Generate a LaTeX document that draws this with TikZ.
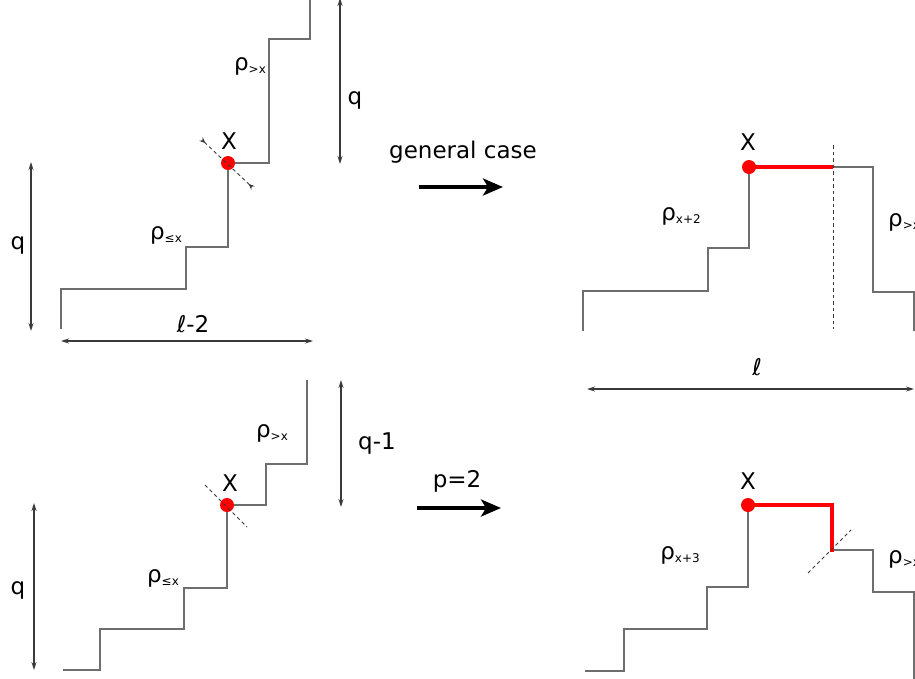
\documentclass[tikz,border=0pt]{standalone}
\usepackage{fontspec}
\setmainfont{DejaVu Sans}
\usetikzlibrary{arrows.meta}
\definecolor{stairgray}{HTML}{6E6E6E}
\definecolor{dimgray}{HTML}{3A3A3A}
\newcommand\rhosub[1]{ρ\raisebox{-3.5pt}{\fontsize{12}{14}\selectfont #1}}
\begin{document}
\begin{tikzpicture}[x=1pt,y=-1pt,
  stair/.style={draw=stairgray, line width=1.6pt},
  redseg/.style={draw=red, line width=4.4pt},
  reddot/.style={circle, fill=red, inner sep=0pt, minimum size=14pt},
  dimarrow/.style={draw=dimgray, line width=1.2pt, {Stealth[length=8pt,width=5pt]}-{Stealth[length=8pt,width=5pt]}},
  bigarrow/.style={draw=black, line width=3.4pt, -{Stealth[length=20pt,width=17pt,inset=5pt]}},
  cutline/.style={draw=dimgray, line width=0.9pt, dash pattern=on 3.5pt off 3pt},
  lab/.style={font=\fontsize{23}{27}\selectfont, inner sep=0pt},
  rholab/.style={font=\fontsize{23}{27}\selectfont, inner sep=0pt}
]
\useasboundingbox (0,0) rectangle (915,678);

% ---------- top-left staircase ----------
\draw[stair] (61,329) -- (61,289) -- (186,289) -- (186,247) -- (228,247) -- (228,163)
  -- (269,163) -- (269,39) -- (310,39) -- (310,0);
\node[reddot] (xa) at (228,163) {};
\coordinate (ca1) at (201,139);
\coordinate (ca2) at (253,188);
\draw[cutline, {Stealth[length=6pt,width=5pt,reversed]}-{Stealth[length=6pt,width=5pt,reversed]}] (ca1) -- (ca2);
\node[lab] (xla) at (229,141) {X};
\node[rholab] (ra1) at (250,66) {\rhosub{>x}};
\node[rholab] (ra2) at (166,235) {\rhosub{≤x}};
\coordinate (qa1) at (31,162);
\coordinate (qa2) at (31,331);
\draw[dimarrow] (qa1) -- (qa2);
\node[lab] (qla) at (18,245) {q};
\coordinate (qb1) at (340,-2);
\coordinate (qb2) at (340,164);
\draw[dimarrow] (qb1) -- (qb2);
\node[lab] (qlb) at (355,100) {q};
\coordinate (la1) at (61,341);
\coordinate (la2) at (313,341);
\draw[dimarrow] (la1) -- (la2);
\node[lab] (lla) at (193,324) {ℓ-2};

% ---------- general case arrow ----------
\node[lab] (gc) at (463,152) {general case};
\coordinate (ga1) at (419,187);
\coordinate (ga2) at (503,187);
\draw[bigarrow] (ga1) -- (ga2);

% ---------- top-right staircase ----------
\draw[stair] (583,331) -- (583,291) -- (708,291) -- (708,248) -- (749,248) -- (749,167);
\draw[stair] (833,167) -- (873,167) -- (873,292) -- (914,292) -- (914,331);
\draw[redseg] (749,167) -- (833,167);
\node[reddot] (xb) at (749,167) {};
\coordinate (vd1) at (833,145);
\coordinate (vd2) at (833,329);
\draw[cutline] (vd1) -- (vd2);
\node[lab] (xlb) at (748,142) {X};
\node[rholab] (rb1) at (681,216) {\rhosub{x+2}};
\node[rholab, anchor=west] (rb2) at (888,222) {\rhosub{>x}};
\coordinate (lb1) at (587,389);
\coordinate (lb2) at (914,389);
\draw[dimarrow] (lb1) -- (lb2);
\node[lab] (llb) at (757,367) {ℓ};

% ---------- bottom-left staircase ----------
\draw[stair] (63,670) -- (100,670) -- (100,629) -- (184,629) -- (184,588) -- (227,588)
  -- (227,505) -- (266,505) -- (266,464) -- (307,464) -- (307,380);
\node[reddot] (xc) at (227,505) {};
\coordinate (cc1) at (205,485);
\coordinate (cc2) at (247,527);
\draw[cutline] (cc1) -- (cc2);
\node[lab] (xlc) at (230,483) {X};
\node[rholab] (rc1) at (272,433) {\rhosub{>x}};
\node[rholab] (rc2) at (163,578) {\rhosub{≤x}};
\coordinate (qc1) at (34,503);
\coordinate (qc2) at (34,670);
\draw[dimarrow] (qc1) -- (qc2);
\node[lab] (qlc) at (18,590) {q};
\coordinate (qd1) at (341,380);
\coordinate (qd2) at (341,507);
\draw[dimarrow] (qd1) -- (qd2);
\node[lab] (qld) at (377,443) {q-1};

% ---------- p=2 arrow ----------
\node[lab] (pc) at (457,481) {p=2};
\coordinate (pa1) at (417,508);
\coordinate (pa2) at (501,508);
\draw[bigarrow] (pa1) -- (pa2);

% ---------- bottom-right staircase ----------
\draw[stair] (585,671) -- (624,671) -- (624,629) -- (707,629) -- (707,587) -- (748,587) -- (748,506);
\draw[stair] (832,550) -- (873,550) -- (873,592) -- (914,592) -- (914,680);
\draw[redseg] (748,505) -- (832,505) -- (832,551.5);
\node[reddot] (xd) at (748,505) {};
\coordinate (dd1) at (808,573);
\coordinate (dd2) at (851,530);
\draw[cutline] (dd1) -- (dd2);
\node[lab] (xld) at (748,481) {X};
\node[rholab] (rd1) at (680,555) {\rhosub{x+3}};
\node[rholab, anchor=west] (rd2) at (888,559) {\rhosub{>x}};
\end{tikzpicture}
\end{document}
